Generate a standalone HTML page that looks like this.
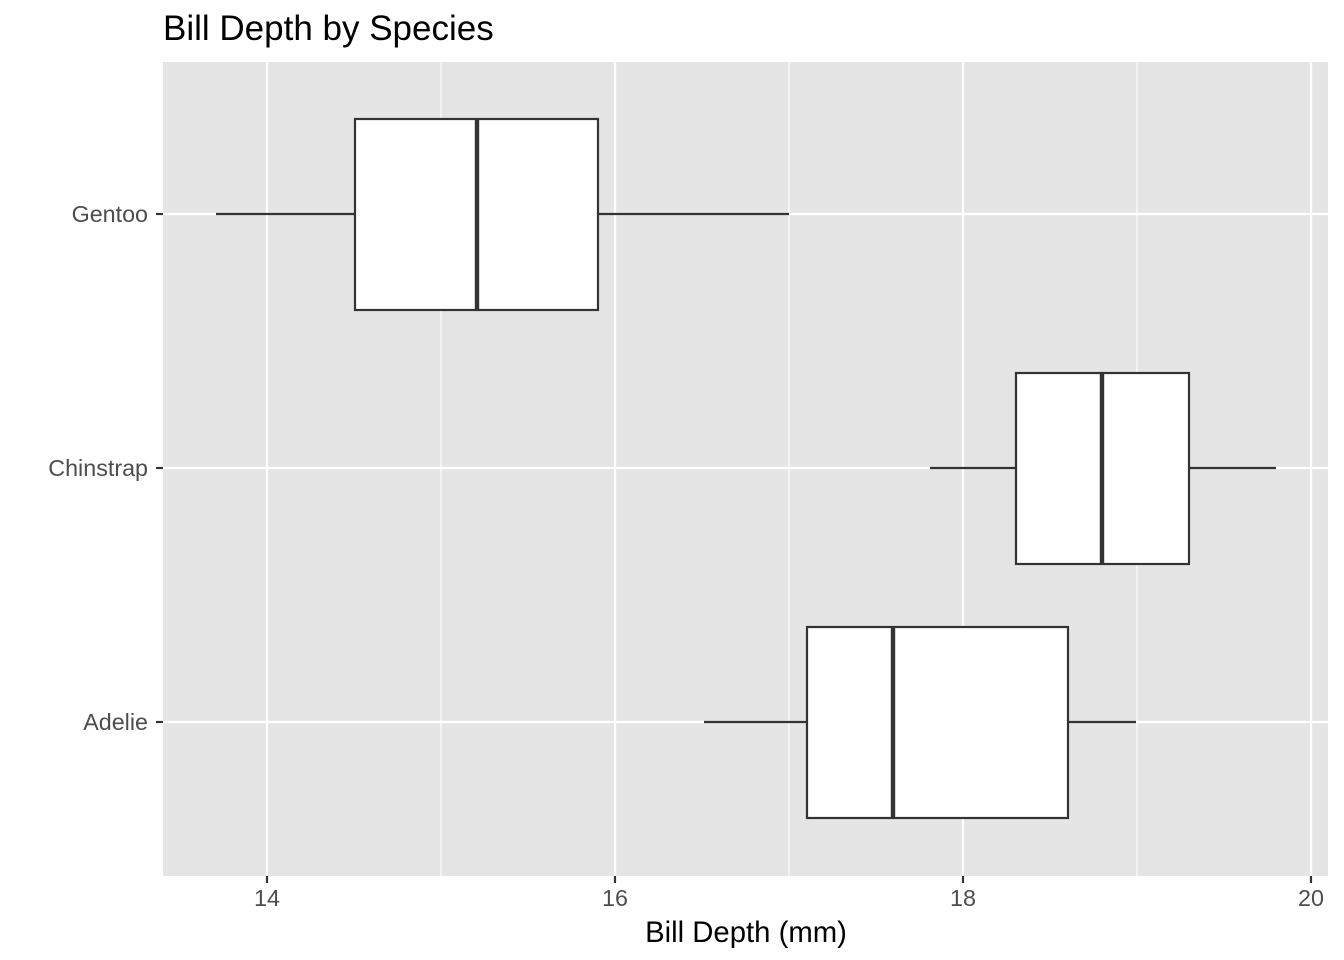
<!DOCTYPE html>
<html><head><meta charset="utf-8"><style>
html,body{margin:0;padding:0;background:#fff;}
svg{display:block;font-family:"Liberation Sans",Arial,sans-serif;}
</style></head><body>
<svg width="1344" height="960" viewBox="0 0 1344 960" xmlns="http://www.w3.org/2000/svg">
<rect width="1344" height="960" fill="#fff"/>
<text x="163" y="40" font-size="35" fill="#000">Bill Depth by Species</text>
<rect x="163" y="62" width="1165" height="814" fill="#e5e5e5"/>
<g stroke="#fff" stroke-width="1.1">
<line x1="441" y1="62" x2="441" y2="876"/>
<line x1="789" y1="62" x2="789" y2="876"/>
<line x1="1137" y1="62" x2="1137" y2="876"/>
</g>
<g stroke="#fff" stroke-width="2.2">
<line x1="267" y1="62" x2="267" y2="876"/>
<line x1="615" y1="62" x2="615" y2="876"/>
<line x1="963" y1="62" x2="963" y2="876"/>
<line x1="1311" y1="62" x2="1311" y2="876"/>
<line x1="163" y1="214" x2="1328" y2="214"/>
<line x1="163" y1="468" x2="1328" y2="468"/>
<line x1="163" y1="722" x2="1328" y2="722"/>
</g>
<g stroke="#333" stroke-width="2.2" fill="#fff">
<line x1="216" y1="214" x2="355" y2="214"/><line x1="598" y1="214" x2="789" y2="214"/>
<rect x="355" y="119" width="243" height="191"/>
<line x1="477" y1="119" x2="477" y2="310" stroke-width="4.4"/>
<line x1="930" y1="468" x2="1016" y2="468"/><line x1="1189" y1="468" x2="1276" y2="468"/>
<rect x="1016" y="373" width="173" height="191"/>
<line x1="1102" y1="373" x2="1102" y2="564" stroke-width="4.4"/>
<line x1="704" y1="722" x2="807" y2="722"/><line x1="1068" y1="722" x2="1136" y2="722"/>
<rect x="807" y="627" width="261" height="191"/>
<line x1="893" y1="627" x2="893" y2="818" stroke-width="4.4"/>
</g>
<g stroke="#333" stroke-width="2.2">
<line x1="156" y1="214" x2="163" y2="214"/>
<line x1="156" y1="468" x2="163" y2="468"/>
<line x1="156" y1="722" x2="163" y2="722"/>
<line x1="267" y1="876" x2="267" y2="883"/>
<line x1="615" y1="876" x2="615" y2="883"/>
<line x1="963" y1="876" x2="963" y2="883"/>
<line x1="1311" y1="876" x2="1311" y2="883"/>
</g>
<g font-size="23.3" fill="#4d4d4d" text-anchor="end">
<text x="148" y="222">Gentoo</text>
<text x="148" y="476">Chinstrap</text>
<text x="148" y="730">Adelie</text>
</g>
<g font-size="23.3" fill="#4d4d4d" text-anchor="middle">
<text x="267" y="906">14</text>
<text x="615" y="906">16</text>
<text x="963" y="906">18</text>
<text x="1311" y="906">20</text>
</g>
<text x="746" y="942" font-size="29.3" text-anchor="middle" fill="#000">Bill Depth (mm)</text>
</svg>
</body></html>
